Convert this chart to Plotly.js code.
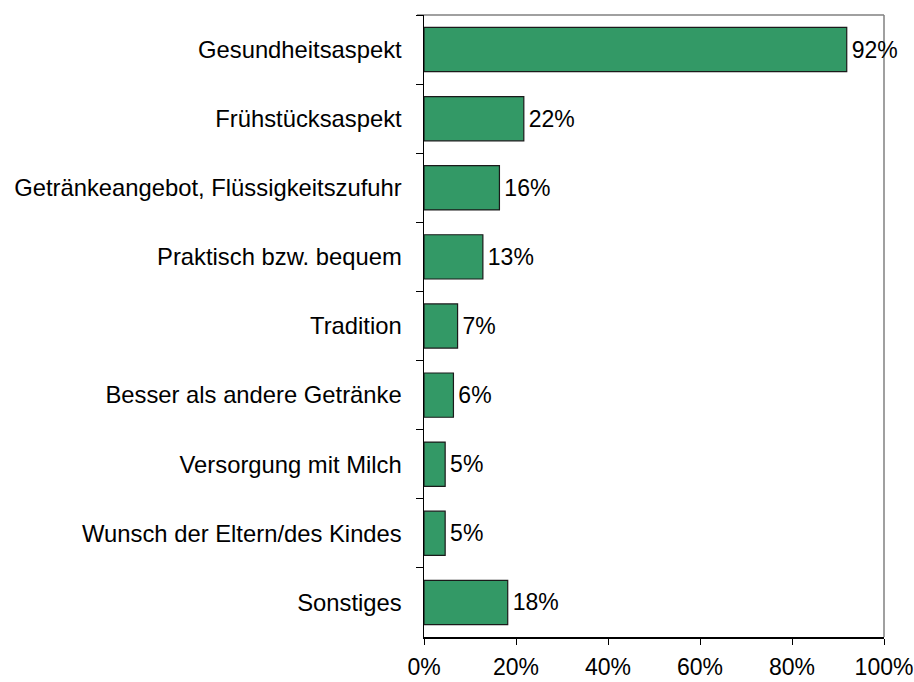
<!DOCTYPE html>
<html>
<head>
<meta charset="utf-8">
<script src="https://cdn.plot.ly/plotly-3.0.1.min.js"></script>
<style>html,body{margin:0;padding:0;background:#fff;}#chart{width:914px;height:682px;}</style>
</head>
<body>
<div id="chart"></div>
<script>
const categories = [
  "Gesundheitsaspekt",
  "Frühstücksaspekt",
  "Getränkeangebot, Flüssigkeitszufuhr",
  "Praktisch bzw. bequem",
  "Tradition",
  "Besser als andere Getränke",
  "Versorgung mit Milch",
  "Wunsch der Eltern/des Kindes",
  "Sonstiges"
];
const values = [91.9, 21.7, 16.4, 12.8, 7.3, 6.4, 4.6, 4.6, 18.2];
const xTickValues = [0, 20, 40, 60, 80, 100];
const xTickLabels = ["0%", "20%", "40%", "60%", "80%", "100%"];

const FONT = "Liberation Sans, Arial, sans-serif";
const FS_CAT = 23.8;
const FS = 23;

const trace = {
  type: "bar",
  orientation: "h",
  y: categories,
  x: values,
  marker: { color: "#339966", line: { color: "#1a1a1a", width: 1.2 } },
  texttemplate: "\u200A%{x:.0f}%",
  textposition: "outside",
  cliponaxis: false,
  constraintext: "none",
  textfont: { family: FONT, size: FS, color: "#000" },
  hoverinfo: "none"
};

const layout = {
  width: 914,
  height: 682,
  margin: { l: 424, r: 30, t: 15, b: 45 },
  paper_bgcolor: "#fff",
  plot_bgcolor: "#fff",
  showlegend: false,
  bargap: 0.36,
  font: { family: FONT, size: FS, color: "#000" },
  xaxis: {
    range: [0, 100],
    tickvals: xTickValues,
    ticktext: xTickLabels,
    ticks: "outside",
    ticklen: 6,
    tickcolor: "#000",
    tickwidth: 1,
    showline: true,
    linecolor: "#000",
    linewidth: 1.5,
    showgrid: false,
    zeroline: false,
    fixedrange: true,
    ticklabelstandoff: 3,
    tickfont: { family: FONT, size: FS, color: "#000" }
  },
  yaxis: {
    autorange: "reversed",
    type: "category",
    ticks: "outside",
    tickson: "boundaries",
    ticklen: 7,
    tickcolor: "#000",
    tickwidth: 1,
    showline: true,
    linecolor: "#000",
    linewidth: 1.5,
    showgrid: false,
    zeroline: false,
    fixedrange: true,
    ticklabelstandoff: 16,
    tickfont: { family: FONT, size: FS_CAT, color: "#000" }
  },
  shapes: [
    { type: "line", xref: "paper", yref: "paper", x0: -0.0152, x1: 1, y0: 1, y1: 1,
      line: { color: "#808080", width: 1.5 }, layer: "below" },
    { type: "line", xref: "paper", yref: "paper", x0: 1, x1: 1, y0: 0, y1: 1,
      line: { color: "#808080", width: 1.5 }, layer: "below" }
  ]
};

Plotly.newPlot("chart", [trace], layout, { displayModeBar: false, staticPlot: true });
</script>
</body>
</html>
